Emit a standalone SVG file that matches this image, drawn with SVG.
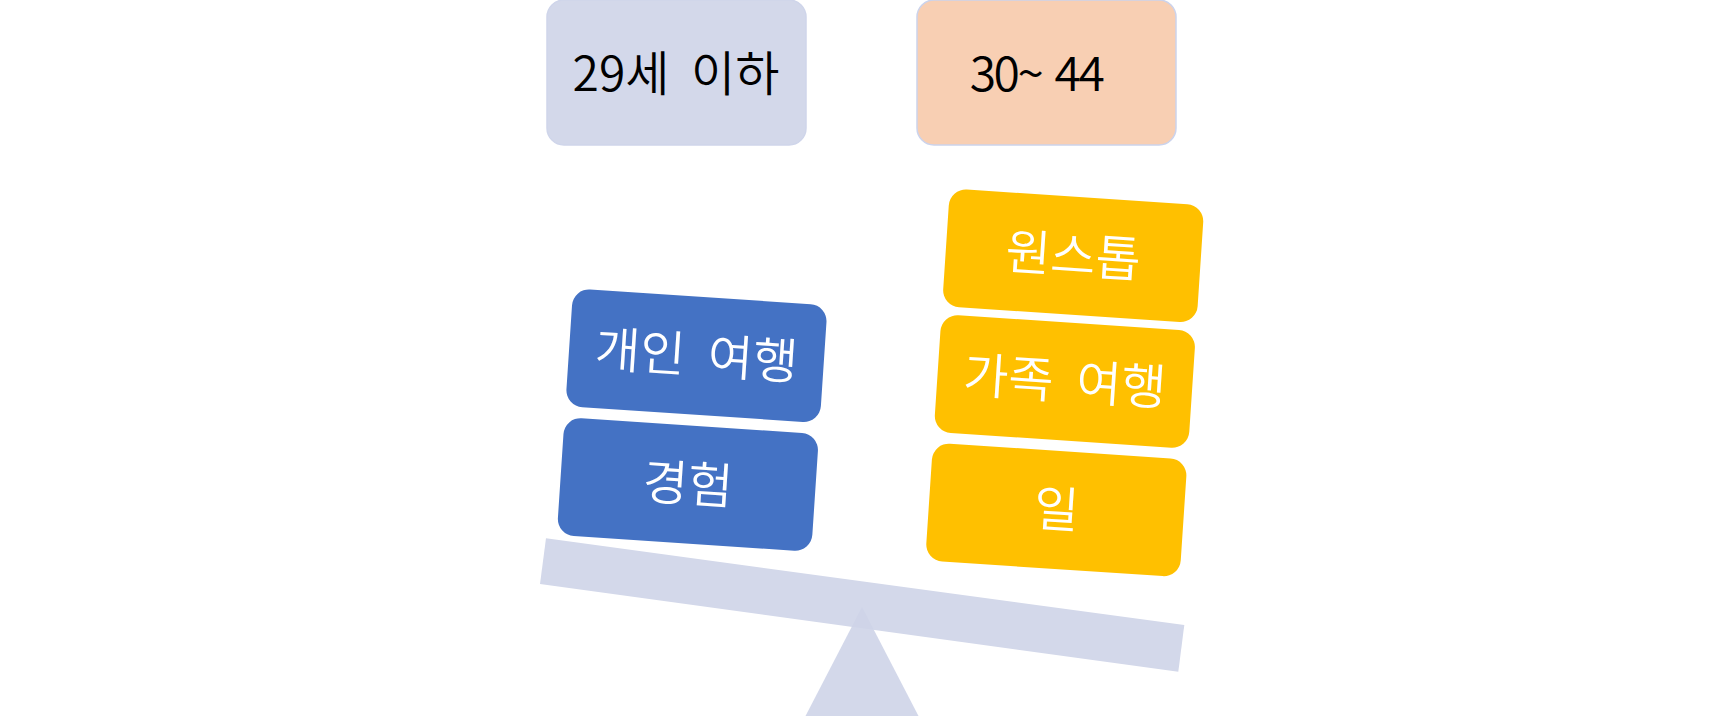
<svg xmlns="http://www.w3.org/2000/svg" width="1725" height="716" viewBox="0 0 1725 716">
  <style>
    .hdr { font-family: "Noto Sans CJK KR DemiLight", "Noto Sans CJK KR", "Noto Sans", sans-serif; font-weight: 350; font-size: 48px; fill: #000000; text-anchor: middle; }
    .tile-text { font-family: "Noto Sans CJK KR DemiLight", "Noto Sans CJK KR", "Noto Sans", sans-serif; font-weight: 350; font-size: 49px; fill: #FFFFFF; text-anchor: middle; word-spacing: 12px; }
    .blue { fill: #4472C4; }
    .yellow { fill: #FFC000; }
    .scale { fill: #D3D8EA; }
  </style>
  <rect width="1725" height="716" fill="#FFFFFF"/>

  <g id="seesaw">
    <polygon class="scale" points="546,538.3 1184.3,625 1178.3,671.7 540,584"/>
    <polygon points="862,607 918.5,716 805.5,716" fill="rgb(206,212,232)" fill-opacity="0.9"/>
  </g>

  <g id="age-29-under">
    <rect x="547" y="0" width="259" height="145" rx="17" fill="#D3D8EA" stroke="#CFD5EA" stroke-width="1.5"/>
    <text class="hdr" x="676" y="91" style="word-spacing:11px">29세 이하</text>
  </g>
  <g id="age-30-44">
    <rect x="917" y="0" width="259" height="145" rx="17" fill="#F8CFB3" stroke="#CBD3EC" stroke-width="1.5"/>
    <text class="hdr" x="1036" y="91" style="letter-spacing:-2.5px; word-spacing:5px">30~ 44</text>
  </g>

  <g transform="rotate(3.8)">
    <g id="personal-travel">
      <rect class="blue" x="591" y="249.75" width="255" height="118" rx="17"/>
      <text class="tile-text" x="718.6" y="326">개인 여행</text>
    </g>
    <g id="experience">
      <rect class="blue" x="591" y="378.8" width="255" height="118" rx="17"/>
      <text class="tile-text" x="718.6" y="455">경험</text>
    </g>
    <g id="one-stop">
      <rect class="yellow" x="960.3" y="125.1" width="255" height="118" rx="17"/>
      <text class="tile-text" x="1087.8" y="201.5">원스톱</text>
    </g>
    <g id="family-travel">
      <rect class="yellow" x="960.3" y="251.05" width="255" height="118" rx="17"/>
      <text class="tile-text" x="1087.8" y="327.5">가족 여행</text>
    </g>
    <g id="work">
      <rect class="yellow" x="960.3" y="379.8" width="255" height="118" rx="17"/>
      <text class="tile-text" x="1087.8" y="456">일</text>
    </g>
  </g>
  <g id="connectors"/>
</svg>
